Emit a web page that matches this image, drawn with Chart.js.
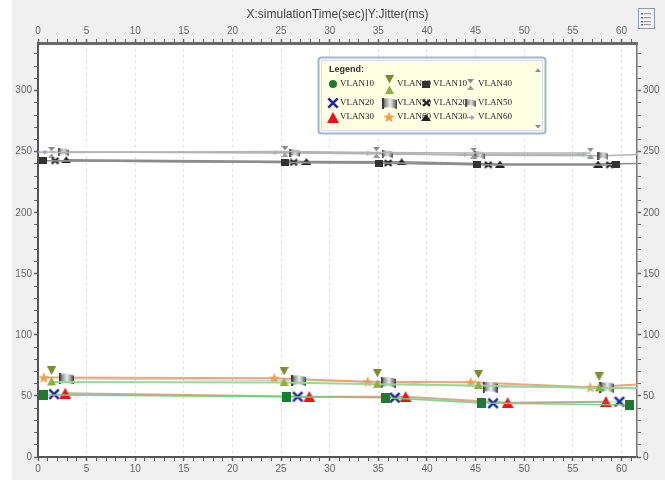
<!DOCTYPE html>
<html>
<head>
<meta charset="utf-8">
<script src="https://cdn.jsdelivr.net/npm/chart.js@4/dist/chart.umd.min.js"></script>
<style>
  html, body { margin: 0; padding: 0; background: #ffffff; }
  #wrap { position: relative; width: 665px; height: 480px; }
</style>
</head>
<body>
<div id="wrap"><canvas id="jitter" width="665" height="480"></canvas></div>
<script>
// ---- series names ----
const seriesNames = ['VLAN10', 'VLAN20', 'VLAN30', 'VLAN40', 'VLAN50', 'VLAN60'];

// ---- colored group: jitter around 40-70 ms ----
const vlan10TimeA   = [0.55, 25.6, 35.7, 45.6, 60.8];
const vlan10JitterA = [50.8, 49.4, 48.6, 44.3, 42.6];
const vlan20TimeA   = [1.65, 26.7, 36.7, 46.8, 59.8];
const vlan20JitterA = [51.4, 49.4, 48.6, 44.0, 45.3];
const vlan30TimeA   = [2.8, 27.9, 37.8, 48.3, 58.4];
const vlan30JitterA = [52.2, 49.4, 49.4, 44.5, 45.3];
const vlan40TimeA   = [1.4, 25.3, 34.9, 45.3, 57.7, 64];
const vlan40JitterA = [61.5, 61.0, 59.5, 58.5, 56.6, 56.6];
const vlan50TimeA   = [2.9, 26.8, 36.0, 46.5, 58.5];
const vlan50JitterA = [63.9, 62.5, 61.2, 57.1, 57.1];
const vlan60TimeA   = [0.6, 24.3, 33.9, 44.5, 56.8, 64];
const vlan60JitterA = [65.0, 64.5, 61.7, 61.2, 57.1, 60.5];

// ---- grey group: jitter around 240-250 ms ----
const vlan10TimeB   = [0.55, 25.4, 35.1, 45.1, 59.4];
const vlan10JitterB = [242.6, 241.2, 240.7, 239.3, 239.3];
const vlan20TimeB   = [1.75, 26.3, 36.0, 46.3, 58.8];
const vlan20JitterB = [242.6, 241.2, 240.7, 239.3, 239.3];
const vlan30TimeB   = [2.9, 27.6, 37.4, 47.5, 57.6, 64];
const vlan30JitterB = [243.4, 242.0, 241.8, 239.9, 239.9, 240.7];
const vlan40TimeB   = [1.4, 25.4, 34.8, 44.8, 56.8];
const vlan40JitterB = [249.4, 250.2, 249.4, 248.9, 248.9];
const vlan50TimeB   = [2.6, 26.4, 35.9, 45.4, 58.1, 64];
const vlan50JitterB = [249.7, 248.9, 248.1, 247.0, 246.7, 248.4];
const vlan60TimeB   = [0.5, 24.2, 33.7, 43.7, 55.9];
const vlan60JitterB = [249.7, 249.4, 248.9, 247.5, 247.5];

// ---- axis ticks ----
const timeMin = 0, timeMax = 61.6, timeMinorStep = 1, timeMajorStep = 5;
const jitterMin = 0, jitterMax = 339, jitterMinorStep = 10, jitterMajorStep = 50;
const chartTitle = 'X:simulationTime(sec)|Y:Jitter(ms)';
const legendTitle = 'Legend:';

// ---- marker images ----
function makeMarker(w, h, draw, visH) {
  const c = document.createElement('canvas');
  c.width = w; c.height = h;
  draw(c.getContext('2d'), w, h);
  c.visH = visH || h;
  return c;
}
function squareMarker(w, h, color) {
  return makeMarker(w, h, (g) => { g.fillStyle = color; g.fillRect(0, 0, w, h); });
}
function circleMarker(d, color) {
  return makeMarker(d, d, (g) => {
    g.fillStyle = color;
    g.beginPath(); g.arc(d / 2, d / 2, d / 2, 0, Math.PI * 2); g.fill();
  });
}
function crossMarker(w, h, color, lw) {
  return makeMarker(w, h, (g) => {
    g.strokeStyle = color; g.lineWidth = lw; g.lineCap = 'butt';
    const p = lw / 2;
    g.beginPath();
    g.moveTo(p, p); g.lineTo(w - p, h - p);
    g.moveTo(w - p, p); g.lineTo(p, h - p);
    g.stroke();
  });
}
function triangleMarker(w, h, color) {
  return makeMarker(w, h, (g) => {
    g.fillStyle = color;
    g.beginPath(); g.moveTo(w / 2, 0); g.lineTo(w, h); g.lineTo(0, h); g.closePath(); g.fill();
  });
}
function hourglassMarker(w, vh, shift, topColor, bottomColor) {
  return makeMarker(w, vh + 2 * shift, (g) => {
    g.fillStyle = topColor;
    g.beginPath(); g.moveTo(0, 0); g.lineTo(w, 0); g.lineTo(w / 2, vh / 2 - 1); g.closePath(); g.fill();
    g.fillStyle = bottomColor;
    g.beginPath(); g.moveTo(w / 2, vh / 2 + 1); g.lineTo(w, vh); g.lineTo(0, vh); g.closePath(); g.fill();
  }, vh);
}
function flagMarker(w, h, dark, light) {
  return makeMarker(w, h, (g) => {
    const grad = g.createLinearGradient(0, 0, w, 0);
    grad.addColorStop(0, dark);
    grad.addColorStop(0.3, '#a8a8a8');
    grad.addColorStop(0.55, light);
    grad.addColorStop(0.8, '#9a9a9a');
    grad.addColorStop(1, dark);
    g.fillStyle = grad;
    g.beginPath();
    g.moveTo(0, 1);
    g.quadraticCurveTo(w / 2, -1, w, 2);
    g.lineTo(w, h);
    g.quadraticCurveTo(w / 2, h - 3, 0, h - 1);
    g.closePath();
    g.fill();
    g.fillStyle = dark;
    g.fillRect(0, 0, 2, h);
  });
}
function starMarker(size, color) {
  return makeMarker(size, size, (g) => {
    const cx = size / 2, cy = size / 2 + 0.5, ro = size / 2, ri = size / 4.6;
    g.fillStyle = color;
    g.beginPath();
    for (let i = 0; i < 10; i++) {
      const r = i % 2 ? ri : ro;
      const a = -Math.PI / 2 + i * Math.PI / 5;
      const x = cx + r * Math.cos(a), y = cy + r * Math.sin(a);
      i ? g.lineTo(x, y) : g.moveTo(x, y);
    }
    g.closePath(); g.fill();
  });
}
function arrowMarker(w, h, color) {
  return makeMarker(w, h, (g) => {
    g.strokeStyle = color; g.fillStyle = color; g.lineWidth = 1.5;
    g.beginPath(); g.moveTo(0, h / 2); g.lineTo(w - 3, h / 2); g.stroke();
    g.beginPath(); g.moveTo(w - 4, 0); g.lineTo(w, h / 2); g.lineTo(w - 4, h); g.closePath(); g.fill();
  });
}

const markersA = [
  squareMarker(9, 10, '#1f7a2e'),
  crossMarker(12, 12, '#1e2b9c', 2.6),
  triangleMarker(12, 11, '#e8161a'),
  hourglassMarker(9, 19, 6, '#7b8c2c', '#8fae44'),
  flagMarker(15, 11, '#3c3c3c', '#ececec'),
  starMarker(12, '#f0a050')
];
const markersB = [
  squareMarker(8, 7, '#333333'),
  crossMarker(9, 8, '#222222', 2.2),
  triangleMarker(10, 7, '#222222'),
  hourglassMarker(7, 11, 0, '#8a8a8a', '#9a9a9a'),
  flagMarker(11, 8, '#555555', '#e0e0e0'),
  arrowMarker(10, 5, '#9aa4ac')
];
// legend swatch for the first colored series is a round dot
const legendSwatchOverride = { 0: circleMarker(8, '#1f7a2e') };

const lineColorsA = ['rgba(120,205,130,0.9)', 'rgba(150,150,190,0.5)', 'rgba(205,170,120,0.95)',
                     'rgba(150,215,150,0.95)', 'rgba(170,170,170,0.6)', 'rgba(236,160,120,0.95)'];
const lineWidthsA = [1.5, 1, 2, 2, 1, 2];
const lineColorsB = ['#8c8c8c', '#8c8c8c', '#8c8c8c', '#b4b4b4', '#b4b4b4', '#b4b4b4'];

const timesA = [vlan10TimeA, vlan20TimeA, vlan30TimeA, vlan40TimeA, vlan50TimeA, vlan60TimeA];
const jittersA = [vlan10JitterA, vlan20JitterA, vlan30JitterA, vlan40JitterA, vlan50JitterA, vlan60JitterA];
const timesB = [vlan10TimeB, vlan20TimeB, vlan30TimeB, vlan40TimeB, vlan50TimeB, vlan60TimeB];
const jittersB = [vlan10JitterB, vlan20JitterB, vlan30JitterB, vlan40JitterB, vlan50JitterB, vlan60JitterB];

function points(xs, ys) { return xs.map((x, i) => ({ x: x, y: ys[i] })); }

const datasets = [];
seriesNames.forEach((name, i) => {
  datasets.push({
    label: name, data: points(timesA[i], jittersA[i]),
    showLine: true, borderColor: lineColorsA[i], borderWidth: lineWidthsA[i],
    pointStyle: markersA[i], pointRadius: 5, tension: 0,
    xAxisID: 'x', yAxisID: 'y'
  });
});
seriesNames.forEach((name, i) => {
  datasets.push({
    label: name, data: points(timesB[i], jittersB[i]),
    showLine: true, borderColor: lineColorsB[i], borderWidth: 1.5,
    pointStyle: markersB[i], pointRadius: 4, tension: 0,
    xAxisID: 'x', yAxisID: 'y'
  });
});

// ---- shared axis styling ----
const tickFont = { family: '"Liberation Sans Narrow", "Arial Narrow", "Liberation Sans", sans-serif', size: 10 };
const tickColor = '#666666';

function timeTicks() {
  return {
    stepSize: timeMinorStep, autoSkip: false, includeBounds: false, maxRotation: 0,
    font: tickFont, color: tickColor, padding: 2,
    callback: (v) => (v % timeMajorStep === 0 ? String(v) : '')
  };
}
function jitterTicks() {
  return {
    stepSize: jitterMinorStep, autoSkip: false, includeBounds: false,
    font: tickFont, color: tickColor, padding: 2,
    callback: (v) => (v % jitterMajorStep === 0 ? String(v) : '')
  };
}
const majorTickWidth = (step) => (ctx) => (ctx.tick && ctx.tick.value % step === 0 ? 1.5 : 1);

// ---- page background, plot area, title, legend box ----
const framePlugin = {
  id: 'frame',
  beforeDraw(chart) {
    const { ctx, chartArea: a } = chart;
    ctx.save();
    ctx.fillStyle = '#ffffff';
    ctx.fillRect(0, 0, chart.width, chart.height);
    ctx.fillStyle = '#f0f0f0';
    ctx.fillRect(12, 0, chart.width - 12, chart.height);
    ctx.fillStyle = '#ffffff';
    ctx.fillRect(a.left, a.top, a.right - a.left, a.bottom - a.top);
    ctx.restore();
  },
  afterDraw(chart) {
    const { ctx, chartArea: a } = chart;
    ctx.save();
    // title
    ctx.fillStyle = '#444444';
    ctx.font = '12px "Liberation Sans Narrow", "Arial Narrow", "Liberation Sans", sans-serif';
    ctx.textAlign = 'center'; ctx.textBaseline = 'middle';
    ctx.fillText(chartTitle, (a.left + a.right) / 2, 15);

    // legend toggle button (top right)
    ctx.fillStyle = '#f4f4f6';
    ctx.strokeStyle = '#8c9bb0'; ctx.lineWidth = 1;
    ctx.fillRect(638.5, 8.5, 16, 20);
    ctx.strokeRect(638.5, 8.5, 16, 20);
    ctx.fillStyle = '#5a6f9a';
    [13, 17, 21, 24].forEach((y) => ctx.fillRect(641, y, 2, 1.5));
    ctx.fillStyle = '#9aa0a8';
    [13, 17, 21, 24].forEach((y) => ctx.fillRect(644, y, 7, 1.2));

    // legend box
    const bx = 318.5, by = 57.5, bw = 227, bh = 76;
    ctx.fillStyle = '#ffffe3';
    ctx.beginPath();
    ctx.roundRect(bx, by, bw, bh, 3);
    ctx.fill();
    ctx.strokeStyle = '#a6b6c8'; ctx.lineWidth = 2;
    ctx.stroke();
    ctx.strokeStyle = '#d6dde6'; ctx.lineWidth = 1;
    ctx.strokeRect(bx + 3, by + 3, bw - 6, bh - 6);
    // scroll arrows
    ctx.fillStyle = '#8a8a8a';
    ctx.beginPath(); ctx.moveTo(535, 72); ctx.lineTo(541, 72); ctx.lineTo(538, 68.5); ctx.closePath(); ctx.fill();
    ctx.beginPath(); ctx.moveTo(535, 125); ctx.lineTo(541, 125); ctx.lineTo(538, 128.5); ctx.closePath(); ctx.fill();

    ctx.fillStyle = '#333333';
    ctx.textAlign = 'left'; ctx.textBaseline = 'middle';
    ctx.font = 'bold 9px "Liberation Sans Narrow", "Arial Narrow", "Liberation Sans", sans-serif';
    ctx.fillText(legendTitle, 329, 70);

    const markerX = [333, 389, 426, 470];
    const textX = [340, 397, 433, 478];
    const rowY = [83, 102, 116];
    ctx.font = '9px "Liberation Serif", "Times New Roman", serif';
    ctx.fillStyle = '#222222';
    chart.data.datasets.forEach((ds, i) => {
      const col = Math.floor(i / 3), row = i % 3;
      const m = legendSwatchOverride[i] || ds.pointStyle;
      const y = rowY[row];
      ctx.drawImage(m, Math.round(markerX[col] - m.width / 2), Math.round(y - m.visH / 2 + 1));
      ctx.fillText(ds.label, textX[col], y + 1);
    });
    ctx.restore();
  }
};

new Chart(document.getElementById('jitter'), {
  type: 'scatter',
  data: { datasets: datasets },
  options: {
    responsive: false,
    animation: false,
    events: [],
    layout: { padding: 0 },
    plugins: { legend: { display: false }, tooltip: { enabled: false }, title: { display: false } },
    scales: {
      x: {
        type: 'linear', position: 'bottom', min: timeMin, max: timeMax,
        ticks: timeTicks(),
        grid: {
          color: (ctx) => (ctx.tick && ctx.tick.value > 0 && ctx.tick.value % timeMajorStep === 0 ? '#dadada' : 'rgba(0,0,0,0)'),
          lineWidth: 1, tickColor: '#666666', tickLength: 4, tickWidth: majorTickWidth(timeMajorStep)
        },
        border: { color: '#555555', width: 2, dash: [2, 4] },
        afterFit: (s) => { s.height = 23; }
      },
      x2: {
        type: 'linear', position: 'top', min: timeMin, max: timeMax, display: true,
        ticks: timeTicks(),
        grid: { drawOnChartArea: false, tickColor: '#666666', tickLength: 4, tickWidth: majorTickWidth(timeMajorStep) },
        border: { color: '#6a6a6a', width: 3 },
        afterFit: (s) => { s.height = 43; }
      },
      y: {
        type: 'linear', position: 'left', min: jitterMin, max: jitterMax,
        ticks: jitterTicks(),
        grid: { color: 'rgba(0,0,0,0)', tickColor: '#666666', tickLength: 4, tickWidth: majorTickWidth(jitterMajorStep) },
        border: { color: '#555555', width: 2 },
        afterFit: (s) => { s.width = 38; }
      },
      y2: {
        type: 'linear', position: 'right', min: jitterMin, max: jitterMax, display: true,
        ticks: jitterTicks(),
        grid: { drawOnChartArea: false, tickColor: '#666666', tickLength: 4, tickWidth: majorTickWidth(jitterMajorStep) },
        border: { color: '#777777', width: 1.5 },
        afterFit: (s) => { s.width = 28; }
      }
    }
  },
  plugins: [framePlugin]
});
</script>
</body>
</html>
